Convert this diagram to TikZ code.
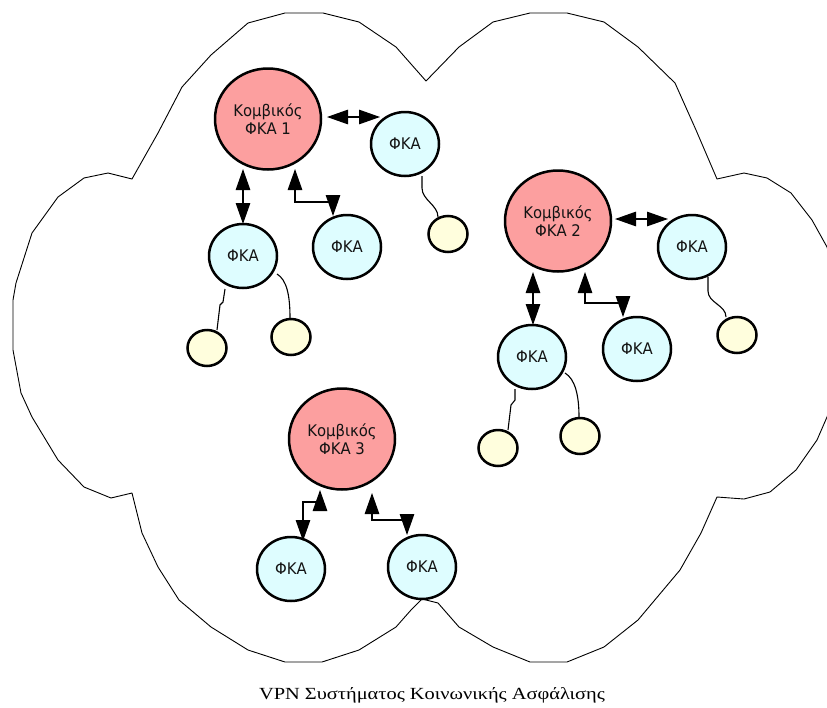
\documentclass[tikz,border=0pt]{standalone}
\usepackage{fontspec}
\setmainfont{Liberation Serif}
\newfontfamily\labelfont[FakeStretch=0.93]{DejaVu Sans}
\usetikzlibrary{shapes.geometric,arrows.meta}

\definecolor{hubfill}{HTML}{FC9F9F}
\definecolor{fkafill}{HTML}{DEFDFF}
\definecolor{leaffill}{HTML}{FFFEDD}
\definecolor{inkgrey}{HTML}{141414}

\tikzset{
  hub/.style={ellipse, draw, line width=2.5pt, fill=hubfill, inner sep=0pt,
    minimum width=106pt, minimum height=101pt, align=center, text=inkgrey,
    font=\labelfont\fontsize{16}{17.5}\selectfont},
  fka/.style={ellipse, draw, line width=2.5pt, fill=fkafill, inner sep=0pt,
    minimum width=68pt, minimum height=64pt, text=inkgrey,
    font=\labelfont\fontsize{16}{17.5}\selectfont},
  leaf/.style={ellipse, draw, line width=2.5pt, fill=leaffill, inner sep=0pt,
    minimum width=39pt, minimum height=36pt},
  link/.style={line width=1.2pt,
    {Triangle[length=21pt,width=14.5pt]}-{Triangle[length=21pt,width=14.5pt]}},
  wire/.style={line width=1.1pt},
  cloudline/.style={line width=0.9pt, line join=round}
}

\begin{document}
\begin{tikzpicture}[x=1pt,y=-1pt]
\useasboundingbox (0,0) rectangle (827,707);
\fill[white] (0,0) rectangle (827,707);

% network cloud outline
\begin{scope}
\clip (0,0) rectangle (827,707);
\draw[cloudline]
  (132,179) -- (158,133) -- (182,87) -- (211,55) -- (248,23) -- (285,13)
  -- (323,13) -- (359,22) -- (396,47) -- (426,81)
  -- (459,47) -- (493,22) -- (530,13) -- (567,13) -- (604,22) -- (638,47)
  -- (675,83) -- (696,130) -- (717,179)
  -- (744,173) -- (767,178) -- (791,193) -- (812,220) -- (827,247)
  -- (840,290) -- (843,340) -- (838,385) -- (827,417)
  -- (817,440) -- (796,470) -- (770,492) -- (744,499) -- (717,497)
  -- (701,533) -- (680,570) -- (638,620) -- (604,647) -- (567,662)
  -- (530,662) -- (493,647) -- (459,627) -- (438,603) -- (422,599)
  -- (411,610) -- (396,627) -- (359,650) -- (322,662) -- (285,662)
  -- (248,650) -- (211,627) -- (179,600) -- (158,567) -- (142,533) -- (132,493)
  -- (111,498) -- (84,487) -- (58,460) -- (32,417) -- (21,393) -- (13,350)
  -- (13,300) -- (16,283) -- (32,233) -- (58,197) -- (84,178) -- (108,173)
  -- cycle;
\end{scope}

% hubs
\node[hub] (k1) at (268,119) {Κομβικός\\ΦΚΑ 1};
\node[hub] (k2) at (558,221) {Κομβικός\\ΦΚΑ 2};
\node[hub] (k3) at (342,439) {Κομβικός\\ΦΚΑ 3};

% member nodes
\node[fka] (f1a) at (405,144) {ΦΚΑ};
\node[fka] (f1b) at (243,256) {ΦΚΑ};
\node[fka] (f1c) at (347,247) {ΦΚΑ};
\node[fka] (f2a) at (692,247) {ΦΚΑ};
\node[fka] (f2b) at (637,349) {ΦΚΑ};
\node[fka] (f2c) at (532,357) {ΦΚΑ};
\node[fka] (f3a) at (291,569) {ΦΚΑ};
\node[fka] (f3b) at (422,567) {ΦΚΑ};

% end points
\node[leaf] (y1a) at (448,234) {};
\node[leaf] (y1b) at (207,348) {};
\node[leaf] (y1c) at (291,337) {};
\node[leaf] (y2a) at (737,335) {};
\node[leaf] (y2b) at (498,448) {};
\node[leaf] (y2c) at (580,436) {};

% hub links
\draw[link] ([shift={(59,-2)}]k1.center) -- ([shift={(-25,-27)}]f1a.center);
\draw[link] ([shift={(-25,50)}]k1.center) -- ([shift={(0,-32)}]f1b.center);
\draw[link] ([shift={(27,50)}]k1.center) -- ++(0,33) -| ([shift={(-14,-31)}]f1c.center);

\draw[link] ([shift={(57,-2)}]k2.center) -- ([shift={(-24,-28)}]f2a.center);
\draw[link] ([shift={(-25,51)}]k2.center) -- ([shift={(1,-32)}]f2c.center);
\draw[link] ([shift={(27,51)}]k2.center) -- ++(0,31) -| ([shift={(-14,-32)}]f2b.center);

\draw[link] ([shift={(-22,51)}]k3.center) -- ++(0,12) -| ([shift={(12,-28)}]f3a.center);
\draw[link] ([shift={(30,54)}]k3.center) -- ++(0,27) -| ([shift={(-15,-32)}]f3b.center);

% local wiring
\draw[wire] ([shift={(17,32)}]f1a.center) -- ++(0,12)
  .. controls +(0,12) and +(0,-12) .. ([shift={(-10,-17)}]y1a.center);
\draw[wire] ([shift={(-18,33)}]f1b.center) -- ++(-2,13) -- ++(-3,3)
  -- ([shift={(10,-18)}]y1b.center);
\draw[wire] ([shift={(34,18)}]f1b.center)
  .. controls +(10,6) and +(0,-22) .. ([shift={(-1,-19)}]y1c.center);

\draw[wire] ([shift={(16,30)}]f2a.center) -- ++(0,14)
  .. controls +(0,12) and +(0,-12) .. ([shift={(-11,-18)}]y2a.center);
\draw[wire] ([shift={(-17,32)}]f2c.center) -- ++(0,11) -- ++(-4,5)
  -- ([shift={(10,-18)}]y2b.center);
\draw[wire] ([shift={(33,16)}]f2c.center)
  .. controls +(10,6) and +(0,-22) .. ([shift={(-1,-19)}]y2c.center);

% caption
\node[anchor=base, inner sep=0pt] (caption) at (432,699)
  {\scalebox{1.2}[1]{\fontsize{17}{19}\selectfont VPN Συστήματος Κοινωνικής Ασφάλισης}};
\end{tikzpicture}
\end{document}
